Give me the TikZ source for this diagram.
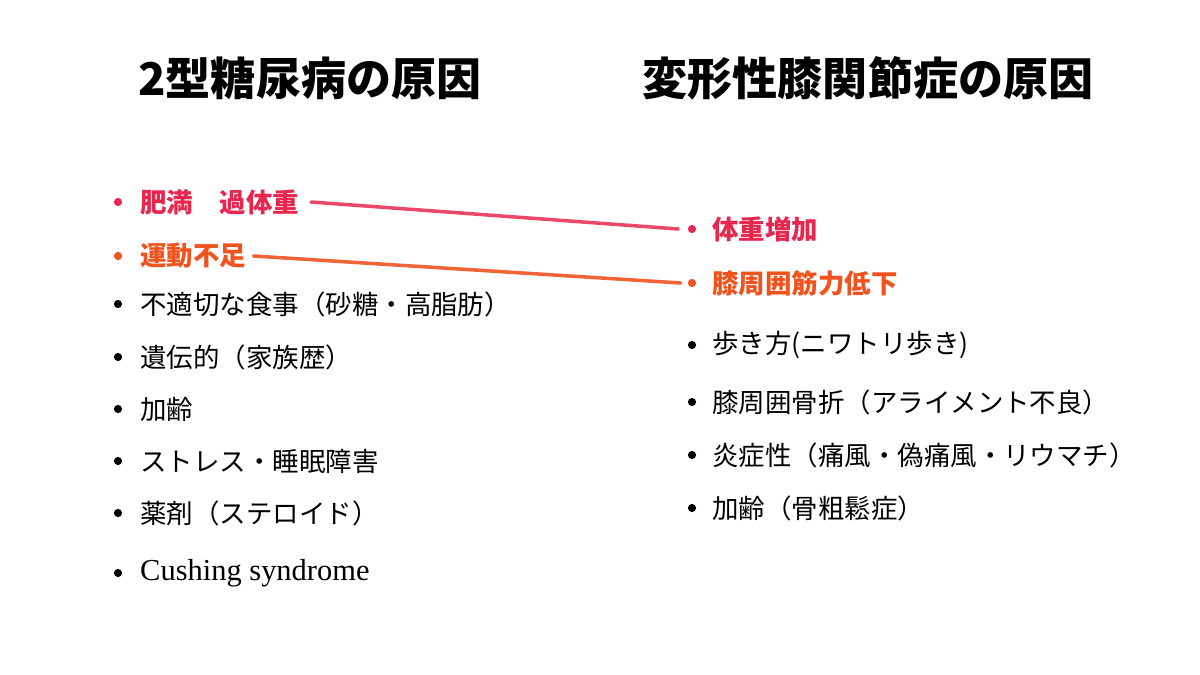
\documentclass[tikz,border=0pt]{standalone}
\usepackage{fontspec}
\setmainfont{Noto Sans CJK JP}
\newfontfamily\latinfont{Liberation Serif}
\usetikzlibrary{positioning}
\definecolor{pinkred}{HTML}{E8274F}
\definecolor{orangered}{HTML}{F0531E}
\begin{document}
\begin{tikzpicture}[
    x=0.03cm, y=-0.03cm,
    title/.style={font=\fontsize{38.5}{40}\selectfont\bfseries, inner sep=0pt},
    item/.style={anchor=west, font=\fontsize{22.6}{24}\selectfont, inner sep=0pt},
    hot/.style={item, font=\fontsize{22.6}{24}\selectfont\bfseries},
    bullet/.style={circle, fill, inner sep=0pt, minimum size=7pt},
    link/.style={line width=3pt, line cap=round}
    ]
\useasboundingbox (0,0) rectangle (1200,675);
% titles
\node[title] (lt) at (310,78) {2型糖尿病の原因};
\node[title] (rt) at (868,78) {変形性膝関節症の原因};
% left list
\node[bullet, pinkred] (b1) at (118,202) {};
\node[hot, pinkred] (l1) at (140,202) {肥満\quad 過体重};
\node[bullet, orangered] (b2) at (118,256) {};
\node[hot, orangered] (l2) at (140,256) {運動不足};
\foreach \y/\t [count=\i from 3] in {304/不適切な食事（砂糖・高脂肪）, 357/遺伝的（家族歴）, 409/加齢, 461/ストレス・睡眠障害, 513/薬剤（ステロイド）, 573/{\fontsize{26}{28}\selectfont\latinfont Cushing syndrome}} {
  \node[bullet] (b\i) at (118,\y) {};
  \node[item] (l\i) at (140,\y) {\t};
}
% right list
\node[bullet, pinkred] (c1) at (692,229) {};
\node[hot, pinkred] (r1) at (712,229) {体重増加};
\node[bullet, orangered] (c2) at (692,283) {};
\node[hot, orangered] (r2) at (712,283) {膝周囲筋力低下};
\foreach \y/\t [count=\i from 3] in {345/歩き方(ニワトリ歩き), 402/膝周囲骨折（アライメント不良）, 455/炎症性（痛風・偽痛風・リウマチ）, 508/加齢（骨粗鬆症）} {
  \node[bullet] (c\i) at (692,\y) {};
  \node[item] (r\i) at (712,\y) {\t};
}
% links
\draw[link, pinkred!85] ([xshift=10pt]l1.east) -- ([xshift=-8pt]c1.west);
\draw[link, orangered!90] ([xshift=6pt]l2.east) -- ([xshift=-6pt]c2.west);
\end{tikzpicture}
\end{document}
